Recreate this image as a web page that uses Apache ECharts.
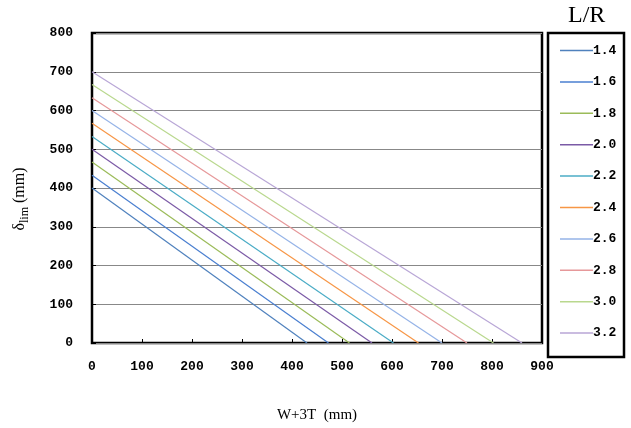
<!DOCTYPE html>
<html><head><meta charset="utf-8">
<script src="https://cdn.jsdelivr.net/npm/echarts@6/dist/echarts.min.js"></script>
<style>html,body{margin:0;padding:0;background:#fff}#c{width:631px;height:428px}</style>
</head><body><div id="c"></div>
<script>
const ratios = ['1.4','1.6','1.8','2.0','2.2','2.4','2.6','2.8','3.0','3.2'];
const yIntercepts = [400, 433, 467, 500, 533, 567, 600, 633, 667, 700];
const xIntercepts = [430, 473, 515, 560, 603, 653, 700, 750, 803, 860];
const colors = ['#4F81BD','#4A7FD0','#9BBB59','#7B5AA6','#4BACC6','#F79646','#95B3E7','#E6989A','#B9D88E','#B8A6D6'];
const yTicks = [0,100,200,300,400,500,600,700,800];
const xTicks = [0,100,200,300,400,500,600,700,800,900];

const chart = echarts.init(document.getElementById('c'), null, {renderer:'canvas'});
const tickFont = {fontFamily:'Liberation Mono', fontSize:13, color:'#000', fontWeight:'bold'};
const series = ratios.map((r,i)=>({
  name: r, type:'line', symbol:'none', silent:true,
  lineStyle:{color:colors[i], width:1.2},
  itemStyle:{color:colors[i]},
  data:[[0,yIntercepts[i]],[xIntercepts[i],0]]
}));
chart.setOption({
  animation:false,
  grid:{left:92,right:89,top:33,bottom:82,show:true,borderColor:'#000',borderWidth:2.5,backgroundColor:'transparent'},
  xAxis:{type:'value',min:0,max:900,interval:100,
    axisLine:{show:false},
    axisTick:{show:true,inside:true,length:4,lineStyle:{color:'#000'}},
    splitLine:{show:false},
    axisLabel:Object.assign({margin:17,formatter:v=>String(v)},tickFont),
    name:'W+3T\u2002(mm)',nameLocation:'middle',nameGap:65,
    nameTextStyle:{fontFamily:'Liberation Serif',fontSize:15,color:'#000'}
  },
  yAxis:{type:'value',min:0,max:800,interval:100,
    axisLine:{show:false},
    axisTick:{show:true,inside:true,length:4,lineStyle:{color:'#000'}},
    splitLine:{show:true,lineStyle:{color:'#888',width:1}},
    axisLabel:Object.assign({margin:19},tickFont)
  },
  legend:{orient:'vertical',left:555,top:39,itemWidth:33,itemHeight:1.5,itemGap:18.4,
    icon:'rect',
    selectedMode:false,
    data:ratios,
    textStyle:{fontFamily:'Liberation Mono',fontSize:13,fontWeight:'bold',color:'#000',padding:[0,0,0,-5]}
  },
  graphic:[
    {type:'rect',shape:{x:548,y:33,width:76,height:324},style:{fill:'none',stroke:'#000',lineWidth:2.5}},
    {type:'text',left:568,top:4,style:{text:'L/R',font:'24px "Liberation Serif"',fill:'#000'}},
    {type:'text',x:20,y:199,rotation:Math.PI/2,
      style:{text:'{d|δ}{s|lim}{d| (mm)}',align:'center',verticalAlign:'middle',
        rich:{d:{fontFamily:'Liberation Serif',fontSize:16,fill:'#000',color:'#000'},
              s:{fontFamily:'Liberation Serif',fontSize:12,fill:'#000',color:'#000',padding:[9,0,0,0]}}}}
  ],
  series:series
});
</script></body></html>
